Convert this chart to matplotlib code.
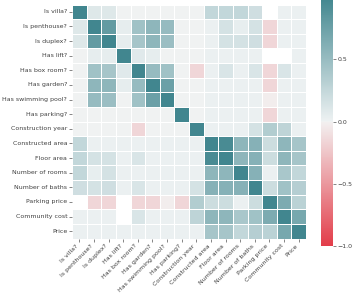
import numpy as np
import matplotlib
matplotlib.use("Agg")
from matplotlib import pyplot as plt
import seaborn as sns

labels = ['Is villa?', 'Is penthouse?', 'Is duplex?', 'Has lift?', 'Has box room?',
          'Has garden?', 'Has swimming pool?', 'Has parking?', 'Construction year',
          'Constructed area', 'Floor area', 'Number of rooms', 'Number of baths',
          'Parking price', 'Community cost', 'Price']

nan = np.nan
# upper triangle of the correlation matrix, row by row (row i holds columns i..15)
upper = [
    [1.00, 0.10, 0.10, 0.00, 0.00, 0.00, 0.00, 0.00, 0.00, 0.25, 0.25, 0.25, 0.18, nan, 0.02, 0.02],
    [1.00, 0.80, 0.05, 0.45, 0.55, 0.50, 0.00, 0.00, 0.02, 0.15, 0.04, 0.15, -0.15, 0.02, 0.02],
    [1.00, 0.05, 0.42, 0.55, 0.48, 0.00, 0.00, 0.02, 0.15, 0.15, 0.18, -0.15, 0.02, 0.02],
    [1.00, 0.08, 0.05, 0.00, 0.00, 0.00, 0.02, 0.02, 0.02, 0.02, nan, nan, 0.02],
    [1.00, 0.50, 0.45, 0.00, -0.15, 0.02, 0.12, 0.02, 0.12, -0.15, 0.12, 0.02],
    [1.00, 0.75, 0.00, 0.00, 0.02, 0.02, 0.02, 0.02, -0.15, 0.02, 0.02],
    [1.00, 0.00, 0.00, 0.02, 0.02, 0.02, 0.02, -0.03, 0.02, 0.02],
    [1.00, 0.00, 0.02, 0.02, 0.02, 0.02, -0.15, 0.02, 0.02],
    [1.00, 0.02, 0.02, 0.02, 0.15, 0.35, 0.28, 0.02],
    [1.00, 0.95, 0.55, 0.60, 0.20, 0.55, 0.42],
    [1.00, 0.55, 0.60, 0.20, 0.55, 0.42],
    [1.00, 0.60, 0.02, 0.40, 0.25],
    [1.00, 0.20, 0.45, 0.33],
    [1.00, 0.65, 0.30],
    [1.00, 0.68],
    [1.00],
]
cbar_ticks = [-1.0, -0.5, 0.0, 0.5]

n = len(labels)
corr = np.zeros((n, n))
for i, row in enumerate(upper):
    corr[i, i:] = row
    corr[i:, i] = row

fig = plt.figure(figsize=(3.54, 2.95), dpi=100)
ax = fig.add_axes([72/354, 1 - 238.5/295, 234/354, 234/295])
cax = fig.add_axes([321/354, 1 - 246/295, 12/354, 249/295])

cmap = sns.diverging_palette(10, 205, s=75, l=52, as_cmap=True)
sns.heatmap(corr, ax=ax, cbar_ax=cax, cmap=cmap, vmin=-1, vmax=1, center=0,
            linewidths=0.5, linecolor='white', xticklabels=labels, yticklabels=labels)

fs = 4.5
ax.set_xticklabels(labels, rotation=45, ha='right', fontsize=fs, color='#404040')
ax.set_yticklabels(labels, rotation=0, fontsize=fs, color='#404040')
ax.tick_params(length=2, width=0.5, color='#555555', pad=1.5)

cax.set_yticks(cbar_ticks)
cax.tick_params(labelsize=fs, labelcolor='#404040', length=2, width=0.5, color='#555555', pad=1.5)

fig.savefig('out.png', dpi=100)
